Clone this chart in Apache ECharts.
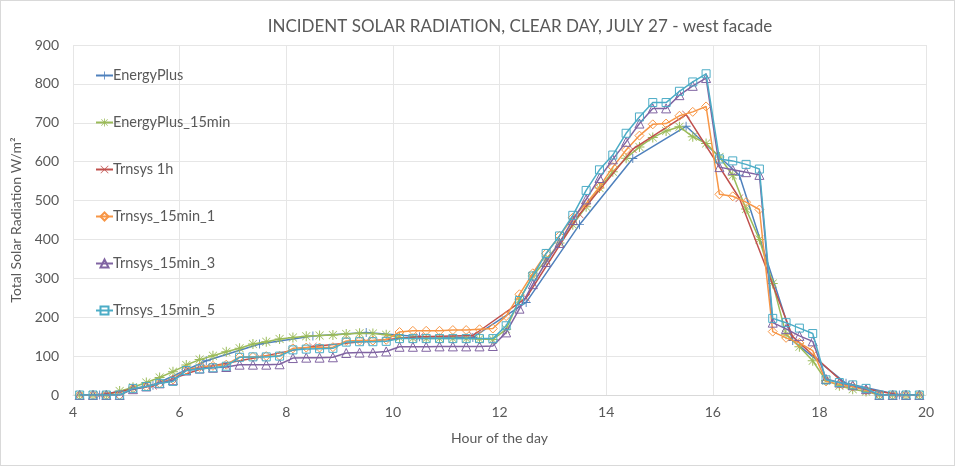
<!DOCTYPE html>
<html><head><meta charset="utf-8">
<script src="https://cdn.jsdelivr.net/npm/echarts@6/dist/echarts.min.js"></script>
<style>
html,body{margin:0;padding:0;background:#fff;}
#c{width:955px;height:466px;box-sizing:border-box;border:1px solid #d9d9d9;}
</style></head>
<body><div id="c"></div>
<script>
var titleText = 'INCIDENT SOLAR RADIATION, CLEAR DAY, JULY 27 - west facade';
var xName = 'Hour of the day';
var yName = 'Total Solar Radiation W/m\u00b2';
var seriesNames = ['EnergyPlus','EnergyPlus_15min','Trnsys 1h','Trnsys_15min_1','Trnsys_15min_3','Trnsys_15min_5'];

var hours1h = [4.5,5.5,6.5,7.5,8.5,9.5,10.5,11.5,12.5,13.5,14.5,15.5,16.5,17.5,18.5,19.5];
var hours15 = [4.125,4.375,4.625,4.875,5.125,5.375,5.625,5.875,6.125,6.375,6.625,6.875,7.125,7.375,7.625,7.875,
  8.125,8.375,8.625,8.875,9.125,9.375,9.625,9.875,10.125,10.375,10.625,10.875,11.125,11.375,11.625,11.875,
  12.125,12.375,12.625,12.875,13.125,13.375,13.625,13.875,14.125,14.375,14.625,14.875,15.125,15.375,15.625,15.875,
  16.125,16.375,16.625,16.875,17.125,17.375,17.625,17.875,18.125,18.375,18.625,18.875,19.125,19.375,19.625,19.875];

var energyPlus = [0,25,88,131,152,161,150,148,238,438,608,691,565,140,30,0];
var trnsys1h = [0,24,72,98,125,138,150,153,250,465,632,721,506,150,25,0];

var energyPlus15 = [0,0,0,10, 20,32,45,60, 77,91,101,111, 120,131,137,144,
  148,151,153,154, 157,159,158,155, 148,146,145,145, 145,145,144,143,
  169,246,306,347, 391,438,484,532, 574,609,638,662, 679,690,664,647,
  612,565,478,400, 287,156,124,88, 37,24,15,9, 0,0,0,0];
var trnsys15_1 = [0,0,0,0, 17,22,30,40, 65,72,75,78, 98,98,100,101,
  120,122,122,123, 139,140,140,142, 162,165,165,165, 167,167,169,171,
  203,259,313,364, 409,456,492,535, 586,630,667,696, 698,718,728,742,
  516,511,496,477, 163,147,134,114, 35,28,22,12, 0,0,0,0];
var trnsys15_3 = [0,0,0,0, 15,22,30,38, 63,68,70,72, 78,78,78,79,
  95,96,96,97, 108,109,109,112, 124,124,124,125, 125,125,125,126,
  161,222,285,342, 391,450,503,558, 606,651,698,737, 737,771,795,815,
  586,579,573,566, 186,170,152,138, 41,32,25,15, 0,0,0,0];
var trnsys15_5 = [0,0,0,0, 17,22,30,35, 63,67,70,74, 97,98,98,100,
  116,118,119,120, 136,137,137,138, 145,145,145,145, 145,145,145,145,
  178,243,306,364, 409,462,526,579, 617,673,715,752, 752,781,805,826,
  607,602,593,581, 197,186,172,158, 39,32,26,17, 0,0,0,0];

var xTicks = {min:4, max:20, interval:2};
var yTicks = {min:0, max:900, interval:100};

function pairs(xs, ys){ return xs.map(function(x,i){ return [x, ys[i]]; }); }

var colors = ['#4F81BD','#9BBB59','#C0504D','#F79646','#8064A2','#4BACC6'];
var plusPath = 'path://M9,0h2v9h9v2h-9v9h-2v-9h-9v-2h9z';
var xPath = 'path://M0,1L1,0L20,19L19,20Z M19,0L20,1L1,20L0,19Z';
var starPath = 'path://M9,0h2v9h9v2h-9v9h-2v-9h-9v-2h9z M1.5,2.5L2.5,1.5L18.5,17.5L17.5,18.5Z M17.5,1.5L18.5,2.5L2.5,18.5L1.5,17.5Z';
var symbols = [plusPath, starPath, xPath, 'diamond', 'triangle', 'rect'];
var hollow = [false, false, false, true, true, true];
var sizes = [9, 10, 8, 9, 9, 8];
var dataSets = [pairs(hours1h, energyPlus), pairs(hours15, energyPlus15), pairs(hours1h, trnsys1h),
  pairs(hours15, trnsys15_1), pairs(hours15, trnsys15_3), pairs(hours15, trnsys15_5)];

var FONT = 'Lato, "Open Sans", sans-serif';
var series = seriesNames.map(function(n, i){
  var is = hollow[i]
    ? {color: 'rgba(255,255,255,0)', borderColor: colors[i], borderWidth: 1}
    : {color: colors[i], borderWidth: 0};
  return {
    name: n, type: 'line', data: dataSets[i],
    symbol: symbols[i], symbolSize: sizes[i], showAllSymbol: true,
    lineStyle: {width: 1.5, color: colors[i]},
    itemStyle: is,
    emphasis: {disabled: true},
    z: 2 + i
  };
});

var chart = echarts.init(document.getElementById('c'));
chart.setOption({
  animation: false,
  color: colors,
  title: {
    text: titleText, left: 514, top: 12, textAlign: 'center',
    textStyle: {fontFamily: FONT, fontSize: 17, fontWeight: 'normal', color: '#595959'}
  },
  legend: {
    orient: 'vertical', left: 89, top: 62, itemGap: 32,
    itemWidth: 17, itemHeight: 10,
    data: seriesNames,
    textStyle: {fontFamily: FONT, fontSize: 14.5, color: '#595959', padding: [0,0,0,-5]}
  },
  grid: {left: 72, right: 28, top: 44, bottom: 70},
  xAxis: {
    type: 'value', min: xTicks.min, max: xTicks.max, interval: xTicks.interval,
    name: xName, nameLocation: 'middle', nameGap: 36,
    nameTextStyle: {fontFamily: FONT, fontSize: 14, color: '#595959'},
    axisLine: {show: true, lineStyle: {color: '#D9D9D9'}},
    axisTick: {show: false},
    axisLabel: {fontFamily: FONT, fontSize: 14, color: '#595959', margin: 10},
    splitLine: {show: true, lineStyle: {color: '#E6E6E6'}}
  },
  yAxis: {
    type: 'value', min: yTicks.min, max: yTicks.max, interval: yTicks.interval,
    name: yName, nameLocation: 'middle', nameGap: 48, nameRotate: 90,
    nameTextStyle: {fontFamily: FONT, fontSize: 14, color: '#595959'},
    axisLine: {show: false}, axisTick: {show: false},
    axisLabel: {fontFamily: FONT, fontSize: 14, color: '#595959', margin: 14},
    splitLine: {show: true, lineStyle: {color: '#E6E6E6'}}
  },
  series: series
});
</script></body></html>
